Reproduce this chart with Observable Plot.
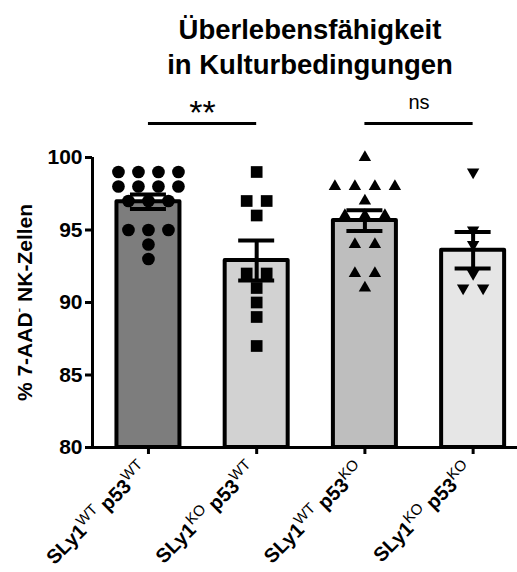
<!DOCTYPE html>
<html><head><meta charset="utf-8">
<script src="https://cdn.jsdelivr.net/npm/d3@7"></script>
<script src="https://cdn.jsdelivr.net/npm/@observablehq/plot@0.6"></script>
<style>
body{margin:0;background:#fff;font-family:"Liberation Sans",Arial,sans-serif;}
#title{width:517px;height:90px;text-align:center;font-weight:bold;font-size:27.5px;line-height:35px;padding-top:12px;padding-left:103px;box-sizing:border-box;color:#000}
</style></head><body>
<div id="title">Überlebensfähigkeit<br>in Kulturbedingungen</div>
<div id="chart"></div>
<script>
// ---- data ----
const sly1 = ["WT", "KO", "WT", "KO"];
const p53 = ["WT", "WT", "KO", "KO"];
const barFills = ["#7d7d7d", "#d2d2d2", "#bebebe", "#e6e6e6"];
const means = [96.95, 92.9, 95.65, 93.6];
const sems = [0.5, 1.38, 0.72, 1.26];
const pointsWTWT = [99, 99, 99, 99, 98, 98, 98, 98, 97, 97, 97, 95, 95, 95, 94, 93];
const pointsKOWT = [99, 97, 97, 96, 92, 92, 91, 90, 89, 87];
const pointsWTKO = [100, 98, 98, 98, 98, 97, 96, 96, 96, 94, 94, 92, 92, 91];
const pointsKOKO = [99, 95, 94, 92, 91, 91];
const yTicks = [80, 85, 90, 95, 100];
const yLabelParts = ["% 7-AAD", "-", " NK-Zellen"];
const sigPairs = [{from: 0, to: 1, label: "**"}, {from: 2, to: 3, label: "ns"}];
const sigLineY = 102.35;
const sigTextY = [103.05, 103.8];

// ---- layout ----
const W = 517, H = 482, ML = 92, MR = 0, MT = 67, MB = 125;
const xDomain = [-0.517, 3.41];
const pxPerUnit = (W - ML - MR) / (xDomain[1] - xDomain[0]);
const barHW = 31.5 / pxPerUnit;
const capHW = 18 / pxPerUnit;
const swarmGap = 20 / pxPerUnit;

const bars = means.map((m, i) => ({i, mean: m, sem: sems[i], fill: barFills[i]}));

function swarm(values, gi) {
  const counts = d3.rollup(values, v => v.length, d => d);
  const seen = new Map();
  return values.map(v => {
    const k = counts.get(v);
    const j = seen.get(v) || 0;
    seen.set(v, j + 1);
    return {g: gi, v, x: gi + (j - (k - 1) / 2) * swarmGap};
  });
}
const allPts = [pointsWTWT, pointsKOWT, pointsWTKO, pointsKOKO].map((p, i) => swarm(p, i));

const downTriangle = {
  draw(ctx, size) {
    const s3 = Math.sqrt(3);
    const y = Math.sqrt(size / (s3 * 3));
    ctx.moveTo(0, 2 * y);
    ctx.lineTo(-s3 * y, -y);
    ctx.lineTo(s3 * y, -y);
    ctx.closePath();
  }
};
const symbols = ["circle", "square", "triangle", downTriangle];
const radii = [6.35, 6.6, 4.6, 4.6];

const chart = Plot.plot({
  width: W, height: H,
  marginLeft: ML, marginRight: MR, marginTop: MT, marginBottom: MB,
  style: {fontFamily: "'Liberation Sans', Arial, sans-serif", color: "#000", background: "#fff", overflow: "visible"},
  x: {domain: xDomain},
  y: {domain: [80, 100]},
  color: {type: "identity"},
  marks: [
    Plot.rectY(bars, {x1: d => d.i - barHW, x2: d => d.i + barHW, y1: 80, y2: "mean", fill: "fill",
      stroke: "#000", strokeWidth: 4, strokeLinejoin: "round"}),
    ...allPts.map((pts, i) => Plot.dot(pts, {x: "x", y: "v", symbol: symbols[i], r: radii[i], fill: "#000", stroke: "none"})),
    Plot.ruleX(bars, {x: "i", y1: d => d.mean - d.sem, y2: d => d.mean + d.sem, strokeWidth: 4}),
    Plot.ruleY(bars, {x1: d => d.i - capHW, x2: d => d.i + capHW, y: d => d.mean + d.sem, strokeWidth: 4}),
    Plot.ruleY(bars, {x1: d => d.i - capHW, x2: d => d.i + capHW, y: d => d.mean - d.sem, strokeWidth: 4}),
    Plot.ruleY([80], {strokeWidth: 3}),
    Plot.ruleX([xDomain[0]], {y1: 80, y2: 100, strokeWidth: 3}),
    Plot.axisY({ticks: yTicks, tickSize: 7, tickPadding: 3, strokeWidth: 3, fontSize: 21, fontWeight: "bold", label: null}),
    Plot.axisX({ticks: [0, 1, 2, 3], tickSize: 7, strokeWidth: 3, tickFormat: () => "", label: null}),
    Plot.text(sly1, {x: (d, i) => i, y: () => 80, dy: 19, dx: -4, rotate: -45, textAnchor: "end", lineAnchor: "middle",
      fontSize: 20, fontWeight: "bold", text: (d, i) => "@@x" + i}),
    Plot.ruleY(sigPairs, {x1: "from", x2: "to", y: () => sigLineY, strokeWidth: 3}),
    Plot.text(sigPairs, {x: d => (d.from + d.to) / 2, y: (d, i) => sigTextY[i], text: "label",
      fontSize: d => d.label === "ns" ? 20 : 34, fontWeight: d => d.label === "ns" ? "normal" : "bold", lineAnchor: "middle"}),
    Plot.text(["@@ylabel"], {frameAnchor: "left", dx: -67, rotate: -90, textAnchor: "middle", lineAnchor: "middle",
      fontSize: 21, fontWeight: "bold", text: d => d})
  ]
});
document.getElementById("chart").appendChild(chart);

const NS = "http://www.w3.org/2000/svg";
function fillRich(t, parts) {
  t.textContent = "";
  for (const [str, kind] of parts) {
    const s = document.createElementNS(NS, "tspan");
    s.textContent = str;
    if (kind === "sup") {
      s.setAttribute("font-weight", "normal");
      s.setAttribute("font-size", "15");
      s.setAttribute("dy", "-8");
    } else if (kind === "supm") {
      s.setAttribute("font-weight", "normal");
      s.setAttribute("font-size", "14");
      s.setAttribute("dy", "-8");
    } else if (kind === "down") {
      s.setAttribute("dy", "8");
    } else if (kind === "downm") {
      s.setAttribute("dy", "8");
    }
    t.appendChild(s);
  }
}
chart.querySelectorAll("text").forEach(t => {
  const c = t.textContent;
  if (c.startsWith("@@x")) {
    const i = +c.slice(3);
    fillRich(t, [["SLy1", ""], [sly1[i], "sup"], ["\u00a0p53", "down"], [p53[i], "sup"]]);
  } else if (c === "@@ylabel") {
    fillRich(t, [[yLabelParts[0], ""], [yLabelParts[1], "supm"], [yLabelParts[2], "downm"]]);
  }
});
</script>
</body></html>
